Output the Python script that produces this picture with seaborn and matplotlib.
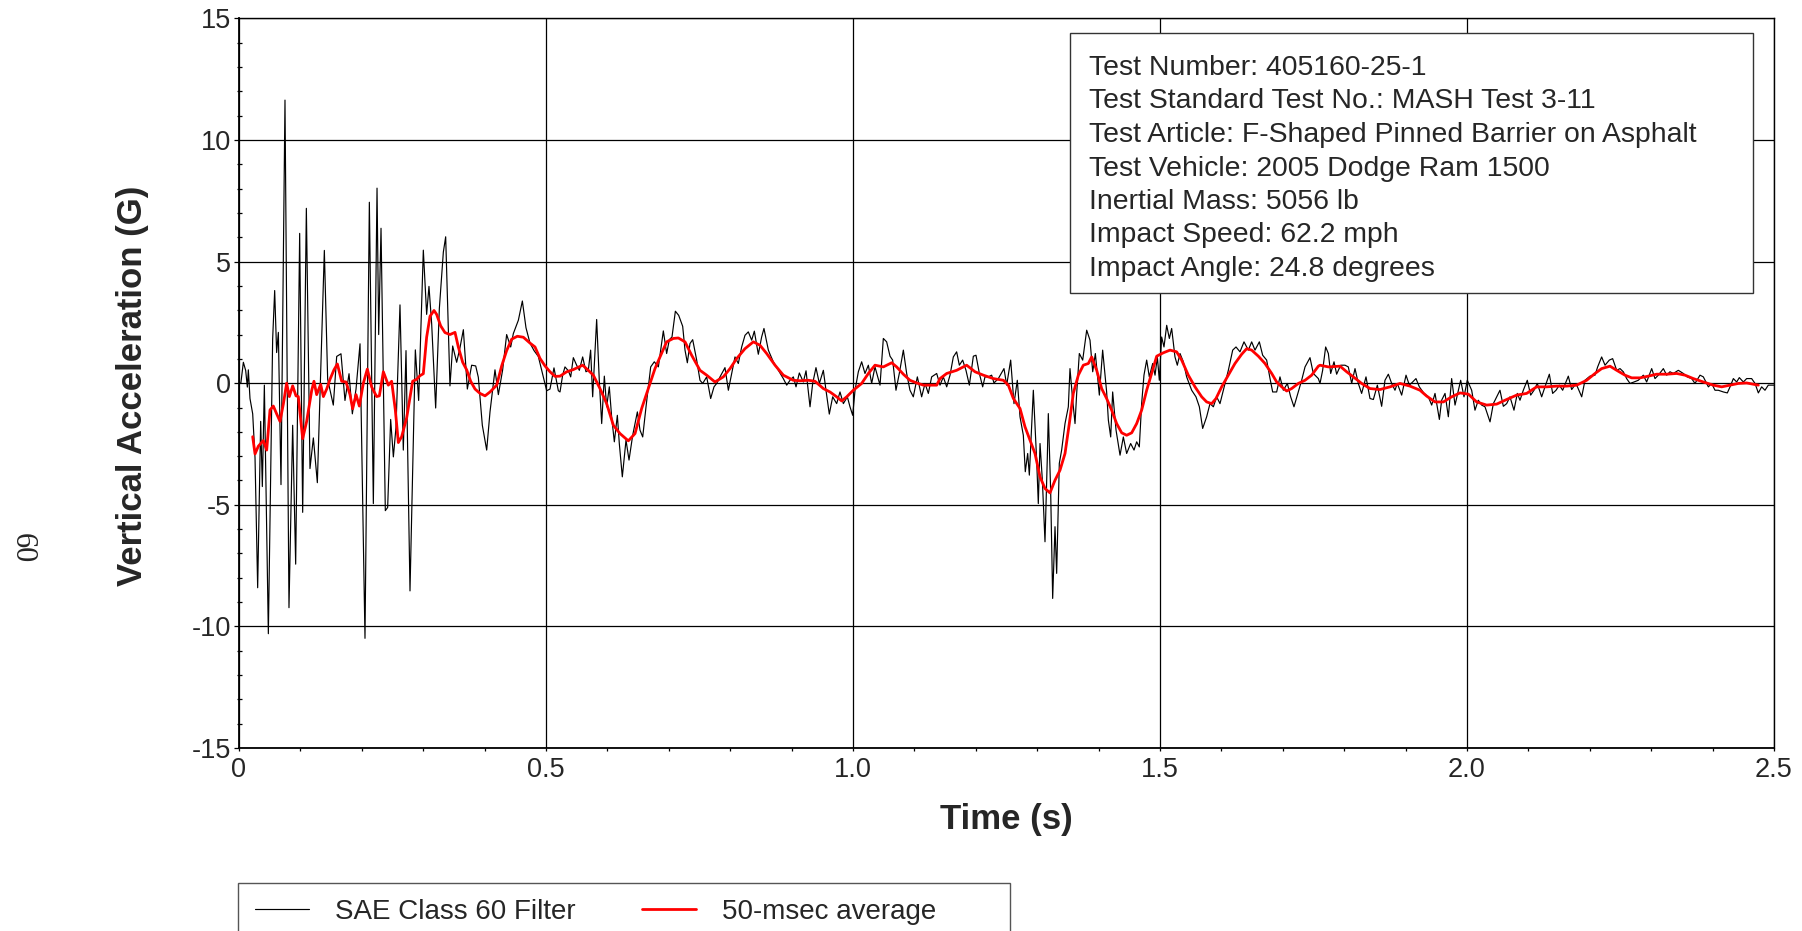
import matplotlib
matplotlib.use("Agg")
import matplotlib.pyplot as plt
from matplotlib.patches import Rectangle
from matplotlib.lines import Line2D
from matplotlib.ticker import MultipleLocator, FixedLocator, FixedFormatter
import seaborn as sns
import pandas as pd

# ---------------- data ----------------
t_raw = [0.0, 0.003, 0.0071, 0.0109, 0.0136, 0.0152, 0.0179, 0.0206, 0.0223, 0.0261, 0.0304, 0.0353,
         0.0380, 0.0413, 0.0478, 0.0548, 0.0581, 0.0613, 0.0641, 0.0684, 0.0749, 0.0814, 0.0874,
         0.0923, 0.0988, 0.1037, 0.1097, 0.1156, 0.1211, 0.1276, 0.1390, 0.1444, 0.1536, 0.1591,
         0.1661, 0.1726, 0.1792, 0.1846, 0.1906, 0.1971, 0.2052, 0.2123, 0.2188, 0.2248, 0.2275,
         0.2313, 0.2383, 0.2421, 0.2470, 0.2514, 0.2557, 0.2622, 0.2676, 0.2720, 0.2785, 0.2872,
         0.2926, 0.3002, 0.3056, 0.3094, 0.3138, 0.3203, 0.3263, 0.3328, 0.3366, 0.3436, 0.3480,
         0.3545, 0.3599, 0.3654, 0.3719, 0.3789, 0.3855, 0.3898, 0.3963, 0.4034, 0.4088, 0.4169,
         0.4224, 0.4294, 0.4359, 0.4425, 0.4468, 0.4550, 0.4615, 0.4674, 0.4739, 0.4805, 0.4875,
         0.4957, 0.5011, 0.5065, 0.5130, 0.5201,
         0.5228, 0.5271, 0.5309, 0.5364, 0.5402, 0.5445, 0.5499, 0.5543, 0.5597, 0.5651, 0.5689,
         0.5727, 0.5760, 0.5825, 0.5869, 0.5907, 0.5950, 0.5988, 0.6031, 0.6069, 0.6113, 0.6162,
         0.6194, 0.6243, 0.6303, 0.6352, 0.6412, 0.6488, 0.6531, 0.6575, 0.6629, 0.6705, 0.6764,
         0.6830, 0.6868, 0.6911, 0.6965, 0.7009, 0.7052, 0.7107, 0.7161, 0.7226, 0.7264, 0.7302,
         0.7345, 0.7389, 0.7454, 0.7508, 0.7552, 0.7617, 0.7682, 0.7736, 0.7780, 0.7834, 0.7915,
         0.7970, 0.8024, 0.8078, 0.8132, 0.8187, 0.8241, 0.8295, 0.8350, 0.8393, 0.8458, 0.8512,
         0.8550, 0.8621, 0.8702, 0.8784, 0.8865, 0.8920, 0.8974, 0.9028, 0.9072, 0.9126, 0.9191,
         0.9235, 0.9300, 0.9343, 0.9397, 0.9452, 0.9517, 0.9560, 0.9614, 0.9669, 0.9734, 0.9788,
         0.9843, 0.9908, 0.9951, 0.9995, 1.0033, 1.0087, 1.0141, 1.0195, 1.0250, 1.0304, 1.0358,
         1.0440, 1.0494, 1.0548, 1.0603, 1.0646, 1.0700, 1.0754, 1.0820, 1.0874, 1.0928, 1.0982,
         1.1048, 1.1118, 1.1173, 1.1227, 1.1281, 1.1363,
         1.1417, 1.1471, 1.1526, 1.1580, 1.1634, 1.1688, 1.1732, 1.1786, 1.1840, 1.1895, 1.1960,
         1.2003, 1.2058, 1.2112, 1.2150, 1.2204, 1.2258, 1.2296, 1.2367, 1.2459, 1.2503, 1.2568,
         1.2622, 1.2676, 1.2720, 1.2774, 1.2806, 1.2845, 1.2872, 1.2937, 1.2991, 1.3018, 1.3046,
         1.3084, 1.3127, 1.3165, 1.3181, 1.3219, 1.3252, 1.3290, 1.3317, 1.3360, 1.3398, 1.3453,
         1.3507, 1.3534, 1.3578, 1.3616, 1.3643, 1.3686, 1.3741, 1.3806, 1.3860, 1.3904, 1.3947,
         1.4012, 1.4066, 1.4131, 1.4159, 1.4197, 1.4229, 1.4284, 1.4349, 1.4403, 1.4457, 1.4522,
         1.4577, 1.4620, 1.4663, 1.4701, 1.4739, 1.4783, 1.4826, 1.4881, 1.4919, 1.4957, 1.4989,
         1.5027, 1.5065, 1.5109, 1.5152, 1.5190, 1.5244, 1.5282, 1.5326, 1.5380, 1.5434, 1.5516,
         1.5586, 1.5641, 1.5695, 1.5760, 1.5814, 1.5869, 1.5923, 1.5977, 1.6059, 1.6113, 1.6184,
         1.6238, 1.6303, 1.6368, 1.6439, 1.6493, 1.6547, 1.6618, 1.6672, 1.6737, 1.6792, 1.6835,
         1.6900, 1.6954, 1.7009, 1.7074, 1.7128, 1.7182, 1.7237, 1.7307, 1.7362, 1.7443, 1.7497,
         1.7579,
         1.7606, 1.7649, 1.7698, 1.7742, 1.7780, 1.7834, 1.7877, 1.7942, 1.8013, 1.8067, 1.8122,
         1.8176, 1.8230, 1.8284, 1.8355, 1.8420, 1.8475, 1.8540, 1.8610, 1.8664, 1.8719, 1.8773,
         1.8827, 1.8865, 1.8936, 1.9007, 1.9061, 1.9115, 1.9169, 1.9224, 1.9300, 1.9370, 1.9425,
         1.9479, 1.9550, 1.9587, 1.9642, 1.9696, 1.9750, 1.9805, 1.9859, 1.9897, 1.9951, 2.0005,
         2.0076, 2.0130, 2.0184, 2.0239, 2.0293, 2.0375, 2.0429, 2.0483, 2.0537, 2.0592, 2.0646,
         2.0700, 2.0765, 2.0820, 2.0863, 2.0917, 2.0982, 2.1037, 2.1091, 2.1145, 2.1216, 2.1270,
         2.1341, 2.1395, 2.1450, 2.1504, 2.1558, 2.1650, 2.1705, 2.1775, 2.1868, 2.1922, 2.2003,
         2.2085, 2.2128, 2.2193, 2.2248, 2.2318, 2.2372, 2.2438, 2.2492, 2.2546, 2.2600, 2.2655,
         2.2720, 2.2790, 2.2872, 2.2926, 2.3008, 2.3062, 2.3116, 2.3198, 2.3252, 2.3306, 2.3360,
         2.3442, 2.3523, 2.3588, 2.3659, 2.3713, 2.3795, 2.3849, 2.3931, 2.3985, 2.4039, 2.4093,
         2.4175, 2.4240, 2.4284, 2.4338, 2.4392, 2.4435, 2.4501, 2.4555, 2.4636, 2.4691, 2.4745,
         2.4799, 2.4853, 2.4907, 2.5000]

g_raw = [0.0, 0.0, 0.86, 0.52, -0.16, 0.55, -0.63, -1.02, -1.26, -3.07, -8.41, -1.57,
         -4.25, -0.08, -10.3, 1.81, 3.81, 1.26, 2.09, -4.17, 11.64, -9.23, -1.73,
         -7.44, 6.16, -5.31, 7.19, -3.51, -2.25, -4.09, 5.46, 0.16, -0.90, 1.10,
         1.21, -0.71, 0.39, -1.26, -0.24, 1.62, -10.49, 7.44, -4.95, 8.02, 2.00,
         6.37, -5.24, -5.11, -1.49, -3.03, -1.81, 3.22, -2.75, 1.34, -8.54, 1.37,
         -0.71, 5.47, 2.83, 3.98, 2.44, -1.02, 3.07, 5.39, 6.02, -0.11, 1.53,
         0.86, 1.46, 2.20, -0.24, 0.74, 0.71, 0.24, -1.73, -2.75, -1.18, 0.55,
         -0.47, 0.55, 2.00, 1.49, 2.04, 2.59, 3.38, 2.28, 1.65, 1.34, 1.10,
         0.24, -0.31, -0.24, 0.63, -0.31,
         -0.36, 0.33, 0.67, 0.51, 0.26, 1.05, 0.74, 0.53, 1.08, 0.47, 0.53,
         1.36, -0.56, 2.62, 0.05, -1.66, 0.29, -0.97, -0.15, -1.38, -2.41, -1.32,
         -2.48, -3.85, -2.34, -3.16, -2.14, -1.18, -1.93, -2.21, -0.97, 0.67, 0.88,
         0.67, 1.36, 2.15, 1.22, 1.79, 1.90, 2.96, 2.79, 2.34, 1.36, 0.84,
         1.63, 1.79, 0.95, 0.12, -0.01, 0.26, -0.63, -0.15, -0.01, 0.26, 0.64,
         -0.29, 0.40, 1.08, 0.81, 1.49, 1.97, 2.11, 1.77, 2.14, 1.19, 1.90,
         2.25, 1.36, 0.88, 0.53, 0.19, -0.08, 0.12, 0.26, -0.15, 0.42, 0.05,
         0.51, -0.97, -0.01, 0.64, -0.01, 0.53, -0.29, -1.27, -0.56, -0.84, -0.36,
         -0.84, -0.56, -0.97, -1.32, -0.29, 0.47, 0.88, 0.40, 0.74, -0.01, 0.67,
         -0.08, 1.84, 1.70, 1.11, 0.95, -0.29, 0.40, 1.36, 0.40, -0.29, -0.56,
         0.26, -0.56, -0.01, -0.42, 0.26, 0.40,
         -0.08, 0.26, -0.15, 0.33, 1.08, 1.29, 0.74, 0.95, 0.53, -0.08, 1.11,
         1.15, 0.40, -0.15, 0.26, 0.26, 0.33, 0.01, 0.19, 0.60, -0.08, 0.95,
         -0.84, 0.12, -1.38, -2.14, -3.64, -2.89, -3.78, -0.29, -3.16, -4.95, -2.48,
         -3.99, -6.52, -3.03, -1.25, -4.40, -8.85, -5.90, -7.82, -3.30, -2.75, -1.66,
         -0.97, 0.60, -0.70, -1.66, -0.42, 1.22, 0.95, 2.18, 1.77, 0.47, 1.22,
         -0.49, 1.36, -0.36, -1.52, -2.21, -0.36, -1.93, -2.96, -2.21, -2.89, -2.48,
         -2.75, -2.41, -2.62, -0.84, 0.33, 0.95, 0.26, 0.81, 0.33, 1.08, 0.12,
         1.90, 1.49, 2.38, 1.84, 2.25, 1.08, 0.74, 1.22, 0.88, 0.26, -0.29,
         -0.56, -0.97, -1.86, -1.38, -0.84, -0.97, -0.56, -0.84, -0.01, 0.53, 1.36,
         1.49, 1.29, 1.70, 1.36, 1.70, 1.36, 1.70, 1.15, 0.95, 0.19, -0.36,
         -0.36, 0.26, -0.29, -0.01, -0.56, -0.97, -0.49, 0.12, 0.67, 1.05, 0.40,
         0.19,
         -0.01, 0.53, 1.49, 1.22, 0.40, 0.88, 0.37, 0.74, 0.74, 0.67, -0.01,
         0.60, -0.01, -0.42, 0.26, -0.63, -0.67, -0.08, -0.95, 0.12, 0.37, -0.01,
         -0.29, -0.01, -0.49, 0.33, -0.08, 0.05, 0.19, -0.15, -0.42, -0.56, -0.90,
         -0.42, -1.49, -0.70, -0.42, -1.38, 0.19, -0.90, -0.29, 0.12, -0.56, 0.12,
         -0.29, -1.11, -0.70, -0.90, -0.97, -1.59, -0.84, -0.56, -0.29, -0.95, -0.84,
         -0.56, -1.11, -0.42, -0.70, -0.29, 0.12, -0.49, -0.29, -0.01, -0.56, -0.15,
         0.37, -0.42, -0.29, -0.08, -0.29, 0.29, -0.26, -0.01, -0.56, 0.12, 0.29,
         0.33, 0.67, 1.08, 0.74, 0.95, 1.01, 0.53, 0.60, 0.47, 0.19, -0.01,
         0.05, 0.12, 0.33, 0.05, 0.60, 0.19, 0.33, 0.60, 0.33, 0.47, 0.40,
         0.53, 0.40, 0.26, 0.19, -0.01, 0.33, 0.26, -0.15, -0.01, -0.29, -0.29,
         -0.36, -0.40, -0.15, 0.19, 0.05, 0.23, 0.05, 0.19, 0.19, -0.01, -0.40,
         -0.15, -0.29, -0.08, -0.08]

t_avg = [0.0223, 0.0261, 0.0315, 0.0396, 0.0451, 0.0505, 0.0559, 0.0613, 0.0668, 0.0722, 0.0776,
         0.0820, 0.0874, 0.0928, 0.0966, 0.1037, 0.1102, 0.1183, 0.1221, 0.1265, 0.1330, 0.1374,
         0.1428, 0.1482, 0.1547, 0.1602, 0.1672, 0.1743, 0.1808, 0.1851, 0.1906, 0.1960, 0.2025,
         0.2090, 0.2161, 0.2242, 0.2286, 0.2351, 0.2432, 0.2486, 0.2546, 0.2595, 0.2649, 0.2731,
         0.2828, 0.2894, 0.2948, 0.3002, 0.3056, 0.3111, 0.3176, 0.3219, 0.3284, 0.3355, 0.3436,
         0.3518, 0.3572, 0.3643, 0.3708, 0.3773, 0.3844, 0.3925, 0.4007, 0.4088, 0.4197, 0.4278,
         0.4359, 0.4441, 0.4533, 0.4631, 0.4739, 0.4821, 0.4902, 0.4984, 0.5065, 0.5147,
         0.5228, 0.5337, 0.5445, 0.5597, 0.5689, 0.5771, 0.5879, 0.5988, 0.6097, 0.6205, 0.6341,
         0.6450, 0.6558, 0.6667, 0.6775, 0.6857, 0.6965, 0.7074, 0.7155, 0.7264, 0.7372, 0.7508,
         0.7617, 0.7752, 0.7888, 0.7997, 0.8105, 0.8241, 0.8377, 0.8485, 0.8594, 0.8730, 0.8865,
         0.9028, 0.9137, 0.9273, 0.9381, 0.9517, 0.9625, 0.9734, 0.9816, 0.9897, 1.0005, 1.0141,
         1.0250, 1.0358, 1.0494, 1.0630, 1.0711, 1.0820, 1.0928, 1.1037, 1.1146, 1.1254, 1.1363,
         1.1417, 1.1526, 1.1688, 1.1851, 1.1987, 1.2123, 1.2286, 1.2449, 1.2530, 1.2612, 1.2720,
         1.2801, 1.2883, 1.2964, 1.3046, 1.3127, 1.3208, 1.3290, 1.3371, 1.3453, 1.3523, 1.3588,
         1.3670, 1.3751, 1.3833, 1.3887, 1.3969, 1.4050, 1.4131, 1.4213, 1.4294, 1.4376, 1.4457,
         1.4539, 1.4620, 1.4701, 1.4783, 1.4864, 1.4946, 1.5054, 1.5163, 1.5271, 1.5353, 1.5461,
         1.5570, 1.5679, 1.5760, 1.5842, 1.5912, 1.6004, 1.6113, 1.6221, 1.6330, 1.6412, 1.6493,
         1.6602, 1.6710, 1.6819, 1.6900, 1.6982, 1.7063, 1.7144, 1.7253, 1.7362, 1.7470, 1.7579,
         1.7606, 1.7742, 1.7932, 1.8040, 1.8149, 1.8284, 1.8420, 1.8583, 1.8746, 1.8909, 1.9072,
         1.9235, 1.9343, 1.9479, 1.9615, 1.9750, 1.9886, 2.0022, 2.0157, 2.0320, 2.0483, 2.0646,
         2.0809, 2.0971, 2.1134, 2.1297, 2.1460, 2.1623, 2.1786, 2.1949, 2.2085, 2.2193, 2.2329,
         2.2438, 2.2573, 2.2682, 2.2818, 2.2953, 2.3089, 2.3252, 2.3415, 2.3551, 2.3686, 2.3849,
         2.4012, 2.4148, 2.4284, 2.4419, 2.4555, 2.4745]

g_avg = [-2.20, -2.91, -2.59, -2.36, -2.75, -1.10, -0.94, -1.26, -1.57, -0.86, 0.00,
         -0.55, -0.11, -0.52, -0.55, -2.28, -1.57, -0.31, 0.08, -0.47, -0.05, -0.55,
         -0.24, 0.16, 0.55, 0.79, 0.08, 0.05, -0.47, -1.05, -0.47, -0.94, 0.00,
         0.58, -0.16, -0.55, -0.52, 0.47, -0.08, 0.08, -1.10, -2.44, -2.20, -1.42,
         0.08, 0.16, 0.31, 0.39, 1.89, 2.75, 2.99, 2.83, 2.36, 2.08, 2.00,
         2.09, 1.49, 0.86, 0.55, 0.08, -0.24, -0.42, -0.52, -0.36, -0.08, 0.71,
         1.34, 1.81, 1.93, 1.89, 1.65, 1.49, 1.02, 0.71, 0.47, 0.28,
         0.29, 0.47, 0.56, 0.74, 0.53, 0.33, -0.22, -0.84, -1.73, -2.07, -2.37,
         -2.07, -1.04, -0.22, 0.60, 1.08, 1.70, 1.84, 1.86, 1.70, 1.15, 0.53,
         0.33, 0.05, 0.26, 0.60, 1.01, 1.42, 1.70, 1.56, 1.22, 0.74, 0.33,
         0.12, 0.10, 0.12, 0.08, -0.22, -0.36, -0.56, -0.73, -0.56, -0.29, -0.01,
         0.40, 0.74, 0.67, 0.84, 0.67, 0.37, 0.12, 0.01, -0.08, -0.08, -0.08,
         0.19, 0.40, 0.53, 0.74, 0.47, 0.33, 0.19, 0.12, -0.08, -0.63, -1.04,
         -1.79, -2.34, -2.89, -3.85, -4.33, -4.51, -3.99, -3.58, -2.89, -1.66, -0.42,
         0.33, 0.74, 0.81, 1.08, 0.53, -0.22, -0.63, -1.11, -1.66, -2.04, -2.14,
         -2.04, -1.66, -1.11, -0.29, 0.40, 1.11, 1.25, 1.36, 1.29, 0.95, 0.33,
         -0.15, -0.56, -0.77, -0.84, -0.63, -0.15, 0.33, 0.81, 1.19, 1.42, 1.36,
         1.11, 0.81, 0.40, 0.05, -0.15, -0.32, -0.22, -0.01, 0.12, 0.33, 0.70,
         0.74, 0.67, 0.70, 0.47, 0.26, -0.01, -0.22, -0.26, -0.15, -0.01, -0.12,
         -0.29, -0.53, -0.77, -0.77, -0.56, -0.40, -0.45, -0.77, -0.90, -0.86, -0.67,
         -0.49, -0.42, -0.15, -0.15, -0.12, -0.12, -0.08, 0.12, 0.40, 0.60, 0.70,
         0.53, 0.33, 0.22, 0.22, 0.29, 0.37, 0.37, 0.40, 0.33, 0.19, 0.05,
         -0.08, -0.15, -0.08, -0.01, 0.01, -0.08]

x_ticks = [0.0, 0.5, 1.0, 1.5, 2.0, 2.5]
x_tick_labels = ["0", "0.5", "1.0", "1.5", "2.0", "2.5"]
y_ticks = [-15, -10, -5, 0, 5, 10, 15]
y_tick_labels = ["-15", "-10", "-5", "0", "5", "10", "15"]

series_names = ["SAE Class 60 Filter", "50-msec average"]
info_lines = ["Test Number: 405160-25-1",
              "Test Standard Test No.: MASH Test 3-11",
              "Test Article: F-Shaped Pinned Barrier on Asphalt",
              "Test Vehicle: 2005 Dodge Ram 1500",
              "Inertial Mass: 5056 lb",
              "Impact Speed: 62.2 mph",
              "Impact Angle: 24.8 degrees"]
x_label = "Time (s)"
y_label = "Vertical Acceleration (G)"
page_number = "60"

# ---------------- styling ----------------
sns.set_style("white")
plt.rcParams["font.family"] = ["Liberation Sans", "DejaVu Sans"]
plt.rcParams["axes.unicode_minus"] = False

W, H = 1802, 931
fig = plt.figure(figsize=(W / 100, H / 100), dpi=100)
ax = fig.add_axes([239 / W, 1 - 748 / H, 1535 / W, 729.6 / H])

df_raw = pd.DataFrame({"t": t_raw, "g": g_raw})
df_avg = pd.DataFrame({"t": t_avg, "g": g_avg})

sns.lineplot(data=df_raw, x="t", y="g", ax=ax, color="black", lw=0.85,
             estimator=None, sort=False, zorder=3)
sns.lineplot(data=df_avg, x="t", y="g", ax=ax, color="#ff0000", lw=2.0,
             estimator=None, sort=False, zorder=4)

ax.set_xlim(0, 2.5)
ax.set_ylim(-15, 15)
ax.xaxis.set_major_locator(FixedLocator(x_ticks))
ax.xaxis.set_major_formatter(FixedFormatter(x_tick_labels))
ax.yaxis.set_major_locator(FixedLocator(y_ticks))
ax.yaxis.set_major_formatter(FixedFormatter(y_tick_labels))
ax.xaxis.set_minor_locator(MultipleLocator(0.1))
ax.yaxis.set_minor_locator(MultipleLocator(1))

ax.grid(True, which="major", color="black", lw=0.9, zorder=1)
ax.set_axisbelow(True)

ax.tick_params(axis="x", which="both", direction="out", length=2.5, width=0.9,
               color="black", labelsize=19.5, pad=4, bottom=True)
ax.tick_params(axis="y", which="major", direction="out", length=3.5, width=0.9,
               color="black", labelsize=19.5, pad=2.5, left=True)
ax.tick_params(axis="y", which="minor", direction="inout", length=3.6, width=0.9,
               color="black", left=True)

for side, sp in ax.spines.items():
    sp.set_visible(True)
    sp.set_color("black")
    sp.set_linewidth(1.0)
ax.spines["left"].set_linewidth(1.3)
ax.spines["bottom"].set_linewidth(1.3)

ax.set_xlabel(x_label, fontsize=25, fontweight="bold")
ax.set_ylabel(y_label, fontsize=25, fontweight="bold")
ax.xaxis.set_label_coords(0.5, -0.075)
ax.yaxis.set_label_coords(-0.0586, 0.496)

# info box
box = Rectangle((1070 / W, 1 - 292.5 / H), (1753 - 1070) / W, (292.5 - 32.5) / H,
                transform=fig.transFigure, facecolor="white", edgecolor="#333333",
                lw=1.0, zorder=10)
fig.patches.append(box)
for i, line in enumerate(info_lines):
    fig.text(1089 / W, 1 - (75 + i * 33.5) / H, line, fontsize=20.4, ha="left",
             va="baseline", zorder=11)

# legend
handles = [Line2D([], [], color="black", lw=0.85), Line2D([], [], color="#ff0000", lw=2.0)]
fig.legend(handles, series_names, loc="center left",
           bbox_to_anchor=(255 / W, 1 - 912 / H), ncol=2, frameon=False,
           fontsize=20, handlelength=1.94, handletextpad=0.93, columnspacing=2.4,
           borderpad=0, borderaxespad=0)
leg_box = Rectangle((238 / W, 1 - 945 / H), (1010 - 238) / W, (945 - 883) / H,
                    transform=fig.transFigure, facecolor="none", edgecolor="#555555",
                    lw=1.0, zorder=5)
fig.patches.append(leg_box)

# page number (rotated, reads top to bottom)
fig.text(22.5 / W, 1 - 548 / H, page_number, rotation=-90, fontsize=22,
         family="Liberation Serif", ha="center", va="center")

fig.savefig("out.png", dpi=100)
